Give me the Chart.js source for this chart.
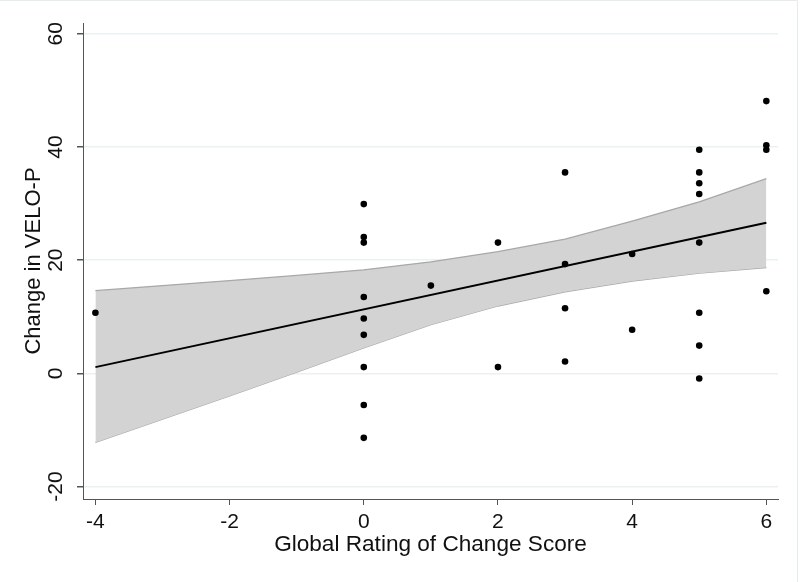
<!DOCTYPE html>
<html>
<head>
<meta charset="utf-8">
<script src="https://cdn.jsdelivr.net/npm/chart.js@4/dist/chart.umd.min.js"></script>
<style>
  html, body { margin: 0; padding: 0; background: #fff; }
  #wrap { width: 800px; height: 582px; position: relative; }
</style>
</head>
<body>
<div id="wrap"><canvas id="c" width="800" height="582"></canvas></div>
<script>
// ---- Data ----
const scoreX = [-4, 0, 0, 0, 0, 0, 0, 0, 0, 0, 1, 2, 2, 3, 3, 3, 3, 4, 4, 5, 5, 5, 5, 5, 5, 5, 5, 6, 6, 6, 6];
const changeY = [10.7, 29.9, 24.1, 23.1, 13.5, 9.7, 6.8, 1.1, -5.6, -11.4, 15.5, 23.1, 1.1, 35.5, 19.3, 11.5, 2.1, 21.1, 7.7, 39.5, 35.5, 33.6, 31.7, 23.1, 10.7, 4.9, -0.9, 48.1, 40.3, 39.5, 14.5];

const fitX = [-4, 6];
const fitY = [1.1, 26.6];

const bandX = [-4, -3, -2, -1, 0, 1, 2, 3, 4, 5, 6];
const bandUpper = [14.6, 15.5, 16.4, 17.3, 18.3, 19.7, 21.5, 23.7, 26.9, 30.3, 34.4];
const bandLower = [-12.2, -8.1, -4.0, 0.2, 4.5, 8.6, 11.9, 14.4, 16.3, 17.7, 18.7];

const xTicks = [-4, -2, 0, 2, 4, 6];
const yTicks = [-20, 0, 20, 40, 60];

const xTitle = 'Global Rating of Change Score';
const yTitle = 'Change in VELO-P';

// ---- Build chart ----
const pts = (xs, ys) => xs.map((x, i) => ({ x: x, y: ys[i] }));
const FONT = "'Liberation Sans', Arial, sans-serif";
const AXIS = '#555555';

const borderPlugin = {
  id: 'pageBorder',
  afterDraw(chart) {
    const ctx = chart.ctx;
    ctx.save();
    ctx.strokeStyle = '#e6eced';
    ctx.lineWidth = 1;
    ctx.beginPath();
    ctx.moveTo(0, 0.5); ctx.lineTo(797.5, 0.5); ctx.lineTo(797.5, 582);
    ctx.stroke();
    ctx.restore();
  }
};

new Chart(document.getElementById('c'), {
  type: 'scatter',
  data: {
    datasets: [
      {
        label: 'obs',
        data: pts(scoreX, changeY),
        backgroundColor: '#000',
        borderColor: '#000',
        pointRadius: 3.3,
        pointHoverRadius: 3.3,
        borderWidth: 0
      },
      {
        label: 'fit',
        type: 'line',
        data: pts(fitX, fitY),
        borderColor: '#000',
        borderWidth: 2,
        pointRadius: 0,
        fill: false
      },
      {
        label: 'upper',
        type: 'line',
        data: pts(bandX, bandUpper),
        borderColor: '#a8a8a8',
        borderWidth: 1.3,
        backgroundColor: '#d3d3d3',
        pointRadius: 0,
        tension: 0,
        fill: '+1'
      },
      {
        label: 'lower',
        type: 'line',
        data: pts(bandX, bandLower),
        borderColor: '#a8a8a8',
        borderWidth: 1.3,
        pointRadius: 0,
        tension: 0,
        fill: false
      }
    ]
  },
  options: {
    responsive: false,
    animation: false,
    events: [],
    layout: { padding: { top: 23, right: 22, bottom: 0, left: 0 } },
    plugins: { legend: { display: false }, tooltip: { enabled: false } },
    scales: {
      x: {
        type: 'linear',
        min: -4.185,
        max: 6.174,
        afterBuildTicks: (s) => { s.ticks = xTicks.map(v => ({ value: v })); },
        afterFit: (s) => { s.height = 83; },
        grid: { drawOnChartArea: false, drawTicks: true, tickLength: 6, tickColor: AXIS, color: AXIS },
        border: { display: true, color: AXIS, width: 1 },
        ticks: { color: '#111', font: { family: FONT, size: 21 }, padding: 5, maxRotation: 0, autoSkip: false },
        title: { display: true, text: xTitle, color: '#111', font: { family: FONT, size: 22.6 }, padding: { top: 0, bottom: 24 } }
      },
      y: {
        type: 'linear',
        min: -22.2,
        max: 61.9,
        afterBuildTicks: (s) => { s.ticks = yTicks.map(v => ({ value: v })); },
        afterFit: (s) => { s.width = 83; },
        grid: { drawOnChartArea: true, color: '#eaf1f2', lineWidth: 1.5, drawTicks: true, tickLength: 6, tickColor: AXIS },
        border: { display: true, color: AXIS, width: 1 },
        ticks: { color: '#111', font: { family: FONT, size: 21 }, padding: 6, minRotation: 90, maxRotation: 90, crossAlign: 'center', autoSkip: false },
        title: { display: true, text: yTitle, color: '#111', font: { family: FONT, size: 22 }, padding: { top: 21, bottom: 0 } }
      }
    }
  },
  plugins: [borderPlugin]
});
</script>
</body>
</html>
